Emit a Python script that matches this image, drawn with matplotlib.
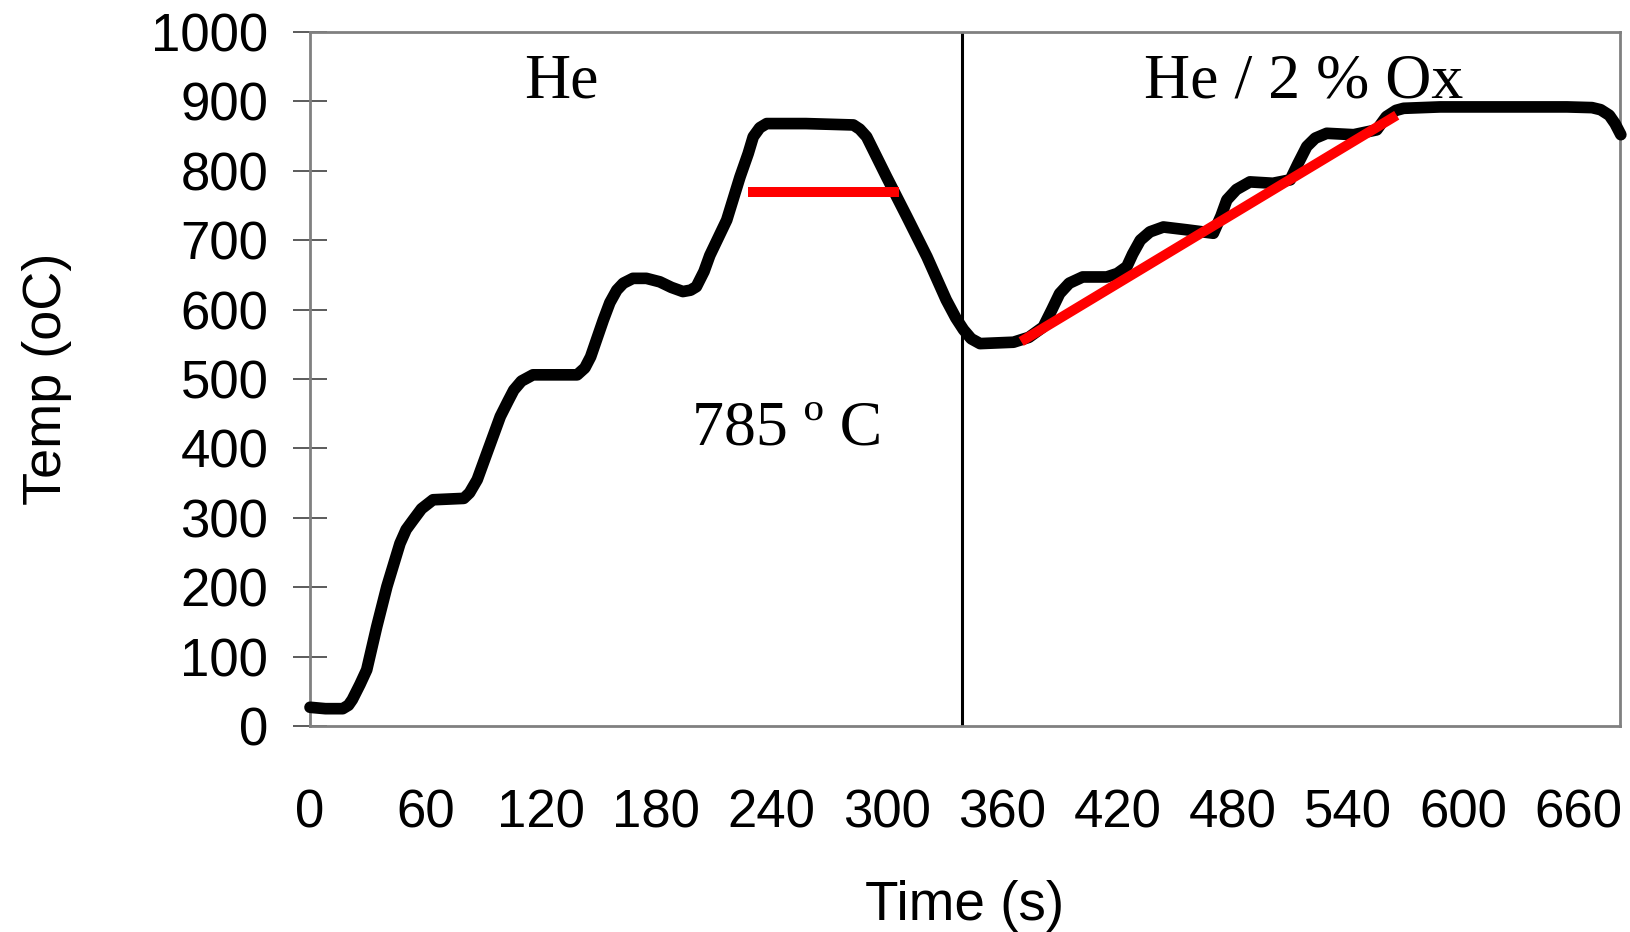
import matplotlib
matplotlib.use("Agg")
import matplotlib.pyplot as plt

# temperature trace (time in s, temperature in oC)
time_s = [0, 8, 17, 20, 22, 26, 29.5, 34.7, 40, 46.8, 50, 53.7, 58, 64, 80, 83, 87,
          92, 99, 103, 106, 110, 116, 139, 143, 146, 152.6, 156, 159.6, 163, 168,
          175, 182, 188, 194, 198, 201, 205, 208, 216.8, 223.7, 228, 230.6, 234,
          237.6, 258, 282.7, 286, 289.6, 300, 310.5, 321, 331, 336, 340, 344, 348.6,
          366, 374, 381.5, 386, 390, 395, 402, 414.5, 420, 425, 428, 432, 437, 444,
          456, 470, 474, 477, 482, 489, 501, 510, 514, 518.6, 523, 529, 543, 555,
          560, 565, 569, 588, 619, 654, 667, 671.5, 676, 679, 682]
temp_c = [27, 25, 25, 30, 38, 60, 81, 143, 201, 263, 283, 297, 313, 326, 328, 336, 355,
          393, 446, 468, 484, 497, 506, 506, 516, 532, 585, 610, 628, 638, 645,
          645, 640, 632, 626, 628, 633, 655, 678, 729, 791, 825, 849, 862,
          868, 868, 866, 860, 849, 791, 734, 676, 614, 588, 571, 558, 551,
          553, 560, 575, 600, 623, 638, 647, 647, 652, 662, 680, 700, 712, 719,
          715, 710, 735, 758, 773, 784, 782, 787, 810, 835, 847, 854, 852, 859,
          878, 887, 890, 892, 892, 892, 891, 888, 880, 868, 852]

# red guide lines
plateau_t = [228, 306.6]
plateau_T = [769, 769]
ramp_t = [370, 565.4]
ramp_T = [554, 880]

switch_t = 339  # gas switch He -> He / 2 % Ox

x_ticks = list(range(0, 661, 60))
y_ticks = list(range(0, 1001, 100))

fig = plt.figure(figsize=(16.3, 9.32), dpi=100)
ax = fig.add_axes([0.1902, 0.2210, 0.8037, 0.7447])

ax.plot(time_s, temp_c, color="black", lw=8.4, solid_joinstyle="round",
        solid_capstyle="round", zorder=3, clip_on=False)
ax.plot(plateau_t, plateau_T, color="#ff0000", lw=7.2, solid_capstyle="butt", zorder=4)
ax.plot(ramp_t, ramp_T, color="#ff0000", lw=7.2, solid_capstyle="butt", zorder=4)
ax.axvline(switch_t, color="black", lw=2.2, zorder=2)

serif = ["Liberation Serif", "DejaVu Serif"]
ax.text(131, 905, "He", family=serif, fontsize=46, ha="center", va="baseline")
ax.text(517, 905, "He / 2 % Ox", family=serif, fontsize=46, ha="center", va="baseline")
ax.text(248, 405, "785 º C", family=serif, fontsize=46, ha="center", va="baseline")

ax.set_xlim(0, 681.6)
ax.set_ylim(0, 1000)
ax.set_xticks(x_ticks)
ax.set_yticks(y_ticks)

sans = ["Liberation Sans", "DejaVu Sans"]
for lab in ax.get_xticklabels() + ax.get_yticklabels():
    lab.set_family(sans)
    lab.set_fontsize(38)
ax.tick_params(axis="x", length=0, pad=45)
ax.tick_params(axis="y", direction="inout", length=24, width=1.2, color="#404040", pad=18)

for sp in ax.spines.values():
    sp.set_color("#808080")
    sp.set_linewidth(2)

ax.set_xlabel("Time (s)", family=sans, fontsize=39.5, labelpad=30)
ax.set_ylabel("Temp (oC)", family=sans, fontsize=39, labelpad=57)

fig.savefig("out.png", dpi=100, facecolor="white")
